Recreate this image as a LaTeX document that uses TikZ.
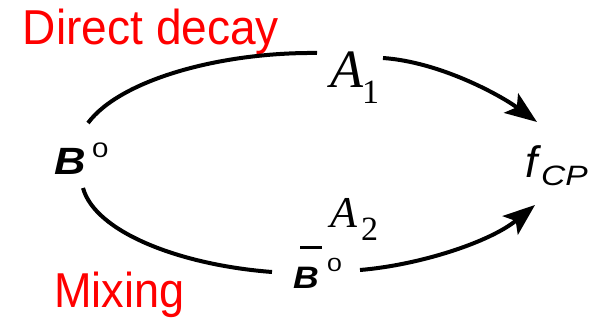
\documentclass[tikz,border=0pt]{standalone}
\usepackage{fontspec}
\setmainfont{Liberation Sans}
\newfontfamily\tms{Liberation Serif}
\usetikzlibrary{arrows.meta}
\begin{document}
\begin{tikzpicture}[x=1pt,y=-1pt,
  lbl/.style={anchor=base west,inner sep=0pt,outer sep=0pt},
  redlbl/.style={lbl,text=red},
  arc/.style={line width=4pt},
  arr/.style={arc,-{Stealth[length=32pt,width=24pt,inset=7pt]}}]
\useasboundingbox (0,0) rectangle (597,321);
% red titles
\node[redlbl] (dd) at (23,45) {\scalebox{0.94}[1]{\fontsize{49}{49}\selectfont Direct decay}};
\node[redlbl] (mx) at (54,307) {\scalebox{0.92}[1]{\fontsize{49}{49}\selectfont Mixing}};
% states
\node[lbl] (B0) at (54,174) {\scalebox{1.15}[1]{\fontsize{38}{38}\selectfont\bfseries\itshape B}};
\node[lbl] (B0s) at (92,157) {\scalebox{1.4}[1]{\fontsize{21}{21}\selectfont 0}};
\node[lbl] (Bb) at (293,288) {\scalebox{1.15}[1]{\fontsize{31}{31}\selectfont\bfseries\itshape B}};
\node[lbl] (Bbs) at (327,271) {\scalebox{1.4}[1]{\fontsize{19}{19}\selectfont 0}};
\draw[line width=3pt] ([xshift=7pt,yshift=41pt]Bb.base west) -- ++(22,0);
\node[lbl] (f) at (525,177) {\fontsize{44}{44}\selectfont\itshape f};
\node[lbl] (cp) at (541,185) {\scalebox{1.2}[1]{\fontsize{28}{28}\selectfont\itshape CP}};
% amplitudes
\node[lbl] (A1) at (330,88) {\tms\itshape\fontsize{54}{54}\selectfont A};
\node[lbl] (A1s) at (362,103) {\tms\fontsize{34}{34}\selectfont 1};
\node[lbl] (A2) at (330,227) {\tms\itshape\fontsize{44}{44}\selectfont A};
\node[lbl] (A2s) at (361,240) {\tms\fontsize{34}{34}\selectfont 2};
% connectors
\coordinate (u0) at (88,123);
\coordinate (u1) at (317,53);
\coordinate (u2) at (383,58);
\coordinate (u3) at (537,122);
\coordinate (l0) at (83,188);
\coordinate (l1) at (272,272);
\coordinate (l2) at (360,270);
\coordinate (l3) at (535,205);
\draw[arc] (u0) .. controls (120,80) and (220,52) .. (u1);
\draw[arr] (u2) .. controls (440,62) and (500,95) .. (u3);
\draw[arc] (l0) .. controls (95,232) and (180,265) .. (l1);
\draw[arr] (l2) .. controls (420,265) and (490,242) .. (l3);
\end{tikzpicture}
\end{document}
